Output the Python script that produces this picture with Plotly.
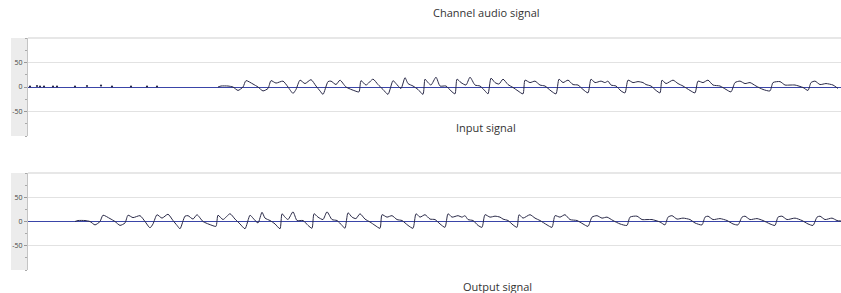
import plotly.graph_objects as go

# ---- data (time in samples, amplitude) ----
input_t = [47, 50, 57, 62, 67, 72, 75, 82, 87, 92, 97, 100, 105, 112, 117, 122, 125, 129, 134, 140,
           145, 149, 152, 157, 160, 165, 169, 175, 184, 188, 190, 195, 202, 207, 212, 217, 222, 225,
           230, 234, 237, 242, 247, 252, 254, 257, 260, 265, 269, 275, 280, 284, 286, 290, 295, 299,
           304, 309, 314, 317, 320, 324, 328, 332, 337, 342, 347, 352, 354, 359, 364, 369, 374, 380,
           385, 388, 392, 397, 402, 407, 412, 417, 420, 424, 430, 434, 437, 440, 445, 450, 454, 457,
           462, 467, 472, 475, 480, 485, 489, 491, 495, 502, 507, 512, 519, 524, 527, 532, 537, 542,
           549, 555, 560, 564, 569, 574, 579, 585, 592, 599, 602, 609, 614, 619, 624, 632, 637, 640,
           644, 649, 655, 662, 667, 674, 677, 680, 685, 692, 699, 705, 710, 714, 717, 722, 729, 735,
           742, 747, 750, 754, 759, 767, 774, 780, 785, 789, 792, 797, 804, 809, 813]
input_y = [0, 2, 2, 0, -7, 0, 13, 6, 0, -8, -3, 13, 8, 12, 0, -13, -5, 14, 7, 15,
           2, -8, -15, 11, 12, 5, 14, 0, -8, -10, 13, 4, 16, 5, -5, -15, 13, 7,
           -3, 19, 7, 2, -5, -15, 16, 9, 4, 20, 2, 2, -8, -14, 16, 9, 4, 20,
           4, 2, -8, -14, 18, 9, 6, 16, 5, -1, -8, -14, 14, 9, 12, 4, 2, -8,
           -14, 16, 9, 14, 5, 4, -5, -12, 16, 9, 12, 9, 12, 4, 2, -8, -12, 14,
           9, 11, 9, 5, 2, -7, -12, 14, 7, 14, 7, 2, -7, -12, 12, 9, 14, 4,
           2, -5, -10, 9, 12, 7, 9, 2, -5, -8, 9, 11, 4, 4, 4, -1, -7, 9,
           12, 5, 7, 4, -3, -7, 9, 11, 4, 6, 2, -5, -7, 9, 11, 4, 6, 2,
           -5, -8, 9, 11, 4, 7, 2, -5, -8, 9, 11, 4, 7, 2, 1]

channel_delay = 143
noise_t = [2, 9, 12, 16, 25, 29, 47, 59, 73, 84, 103, 119, 129]
noise_y = [1, 2, 1, 1, 1, 1, 1, 2, 3, 1, 1, 1, 1]

channel_t = [t + channel_delay for t in input_t if t + channel_delay <= 813]
channel_y = input_y[:len(channel_t)]

titles = ["Channel audio signal", "Input signal", "Output signal"]
y_ticks = [-50, 0, 50]

W, H = 841, 293
def py(px):
    return (H - px) / H

dom1 = [py(136), py(38)]
dom2 = [py(270), py(173)]
xdom = [28 / W, 1.0]

wave_color = "#2a2a48"
zero_color = "#3a45a8"

fig = go.Figure()
fig.add_trace(go.Scatter(x=channel_t, y=channel_y, mode="lines",
                         line=dict(color=wave_color, width=1, shape="spline", smoothing=0.6),
                         xaxis="x", yaxis="y"))
fig.add_trace(go.Scatter(x=noise_t, y=noise_y, mode="markers",
                         marker=dict(color=wave_color, size=2.2), xaxis="x", yaxis="y"))
fig.add_trace(go.Scatter(x=input_t, y=input_y, mode="lines",
                         line=dict(color=wave_color, width=1, shape="spline", smoothing=0.6),
                         xaxis="x2", yaxis="y2"))

yax = dict(range=[-100, 100], tickvals=y_ticks, ticktext=[str(v) for v in y_ticks],
           showgrid=True, gridcolor="#e2e2e2", gridwidth=1,
           zeroline=True, zerolinecolor=zero_color, zerolinewidth=1.2,
           showline=True, linecolor="#c4c4c4", linewidth=1,
           ticks="outside", ticklen=3, tickcolor="#999999",
           minor=dict(ticks="outside", dtick=25, ticklen=2, tickcolor="#aaaaaa", showgrid=False),
           tickfont=dict(family="Open Sans", size=7, color="#444444"), fixedrange=True)
xax = dict(range=[0, 813], showgrid=False, zeroline=False, showticklabels=False,
           showline=False, ticks="", fixedrange=True)

fig.update_layout(
    width=W, height=H, margin=dict(l=0, r=0, t=0, b=0),
    paper_bgcolor="white", plot_bgcolor="white", showlegend=False,
    xaxis=dict(domain=xdom, anchor="y", **xax),
    yaxis=dict(domain=dom1, anchor="x", **yax),
    xaxis2=dict(domain=xdom, anchor="y2", **xax),
    yaxis2=dict(domain=dom2, anchor="x2", **yax),
)

shapes = []
for dom in (dom1, dom2):
    shapes.append(dict(type="rect", xref="paper", yref="paper", x0=11 / W, x1=28 / W,
                       y0=dom[0], y1=dom[1], fillcolor="#ececec", line=dict(width=0), layer="below"))
    shapes.append(dict(type="line", xref="paper", yref="paper", x0=28 / W, x1=1,
                       y0=dom[1], y1=dom[1], line=dict(color="#cfcfcf", width=1)))
fig.update_layout(shapes=shapes)

title_pos = [(486, 13), (486, 127), (497, 286)]
for txt, (xp, yp) in zip(titles, title_pos):
    fig.add_annotation(text=txt, x=xp / W, y=py(yp), xref="paper", yref="paper",
                       showarrow=False, xanchor="center", yanchor="middle",
                       font=dict(family="Open Sans", size=11, color="#333333"))

fig.write_html("out.html", config={"displayModeBar": False},
               post_script="document.body.style.margin='0';document.body.style.overflow='hidden';")
